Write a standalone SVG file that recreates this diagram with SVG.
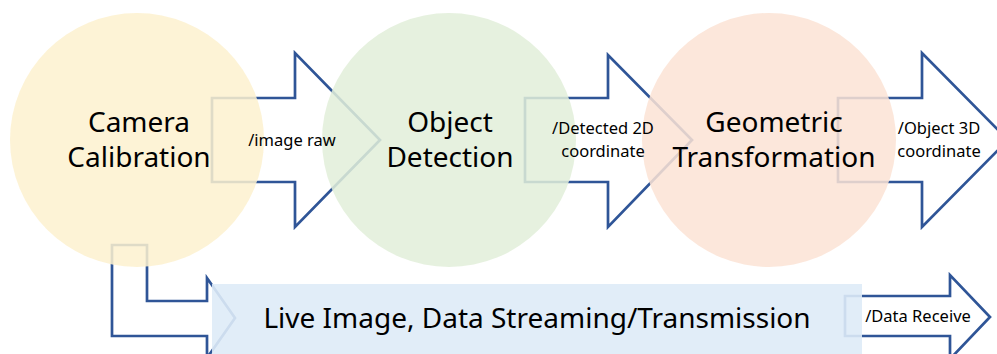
<svg xmlns="http://www.w3.org/2000/svg" width="997" height="354" viewBox="0 0 997 354">
<style>
.arrow{fill:#ffffff;stroke:#2F5597;stroke-width:2.7;stroke-linejoin:miter}
.circ{fill-opacity:0.86}
.big{font-family:"Noto Sans","DejaVu Sans",sans-serif;font-size:28px;fill:#000;text-anchor:middle}
.lbl{font-family:"Noto Sans","DejaVu Sans",sans-serif;font-size:16.5px;fill:#000;text-anchor:middle}
</style>
<rect width="997" height="354" fill="#ffffff"/>
<g id="connectors">
<path class="arrow" d="M212,98 H295 V53 L380,140 L295,227 V182 H212 Z"/>
<path class="arrow" d="M525,98 H608 V55 L692,140 L608,227 V182 H525 Z"/>
<path class="arrow" d="M838,98 H922 V53 L1008,140 L922,227 V182 H838 Z"/>
<path class="arrow" d="M112,245 H147 V301 H207 V278 L235,318 L207,358 V336 H112 Z"/>
<path class="arrow" d="M845,296 H950 V275 L990,317 L950,359 V336 H845 Z"/>
</g>
<g id="camera-calibration">
<circle class="circ" cx="137" cy="140" r="127" fill="#FDF1CF"/>
<text class="big" x="139" y="132">Camera</text>
<text class="big" x="139" y="167">Calibration</text>
</g>
<g id="object-detection">
<circle class="circ" cx="449" cy="140" r="127" fill="#E2EFDA"/>
<text class="big" x="450" y="132">Object</text>
<text class="big" x="450" y="167">Detection</text>
</g>
<g id="geometric-transformation">
<circle class="circ" cx="769" cy="140" r="127" fill="#FBE3D5"/>
<text class="big" x="774" y="132">Geometric</text>
<text class="big" x="774" y="167">Transformation</text>
</g>
<g id="streaming">
<rect x="212" y="284" width="650" height="80" fill="#DEEBF7" fill-opacity="0.9"/>
<text class="big" x="537" y="328">Live Image, Data Streaming/Transmission</text>
</g>
<g id="labels">
<text class="lbl" x="292" y="146">/image raw</text>
<text class="lbl" x="603" y="134">/Detected 2D</text>
<text class="lbl" x="603" y="157">coordinate</text>
<text class="lbl" x="939" y="134">/Object 3D</text>
<text class="lbl" x="939" y="157">coordinate</text>
<text class="lbl" x="918" y="322">/Data Receive</text>
</g>
</svg>
